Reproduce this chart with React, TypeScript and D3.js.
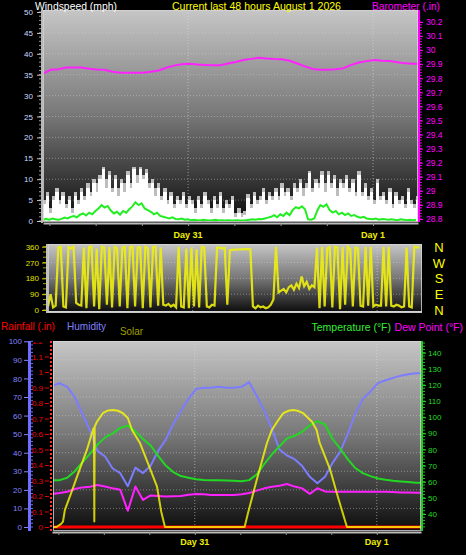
import React, { useEffect, useRef } from 'react';
import * as d3 from 'd3';

const W = 466;
const H = 555;

const periodStart = new Date(2026, 6, 30, 5, 10);
const periodEnd = new Date(2026, 7, 1, 5, 50);

// wind speed samples, one every 24 minutes (mph)
const windStep = 24;
const windSpeed = [
  4, 6, 2, 5, 7, 4, 6, 3, 5, 2, 6, 4, 7, 5, 8, 6, 9, 7, 10, 12.5,
  8, 11, 7, 10, 6, 9, 7, 11, 8, 12.5, 9, 12.5, 10, 11.5, 8, 9, 6, 8, 5, 7,
  4, 6, 3, 5, 4, 6, 3, 5, 4, 2, 5, 3, 6, 4, 2, 5, 3, 6, 2, 4,
  3, 5, 1, 2, 1, 1.5, 5.5, 3, 6, 4, 5, 7, 4, 6, 5, 7, 5, 8, 6, 7,
  5, 8, 7, 9, 6, 8, 11.5, 7, 9, 8, 11, 7, 11, 8, 10, 6, 9, 8, 10, 7,
  9, 6, 11, 6, 8, 5, 7, 4, 9, 5, 6, 4, 7, 3, 6, 4, 5, 3, 7, 4,
  3, 5,
];
const windGust = [
  5, 7, 3, 6, 8, 5, 7, 4, 6, 3, 7, 5, 8, 6, 9, 7, 10, 9, 11, 13,
  10, 12, 8, 11, 8, 10, 9, 12, 9, 13, 11, 13, 11, 12.5, 9, 10, 8, 9, 6, 8,
  5, 7, 4, 6, 5, 7, 4, 6, 5, 3, 6, 4, 7, 5, 3, 6, 4, 7, 3, 5,
  4, 6, 2, 3, 2, 2.5, 6.5, 4, 7, 5, 6, 8, 5, 7, 6, 8, 6, 9, 7, 8,
  6, 9, 8, 10, 8, 9, 12, 8, 10, 9, 12, 9, 12, 9, 11, 8, 10, 9, 11, 8,
  10, 7, 12, 7, 9, 6, 8, 5, 10, 6, 7, 5, 8, 4, 7, 5, 6, 4, 8, 5,
  4, 6,
];
const windAvg = [
  0.3, 0.5, 0.3, 0.6, 0.4, 0.3, 0.5, 0.8, 0.6, 1, 1.2, 0.9, 1.5, 1.8, 1.3, 2, 1.6, 2.4, 3, 3.8,
  3.2, 3.6, 2.5, 1.8, 2.2, 1.5, 2.4, 2, 2.8, 3.5, 4.5, 3.8, 4.2, 3, 2.6, 2.2, 1.6, 2, 1.2, 1,
  0.8, 0.6, 0.9, 0.5, 0.4, 0.6, 0.3, 0.4, 0.2, 0.3, 0.2, 0.1, 0.3, 0.2, 0.1, 0.2, 0.3, 0.1, 0.2, 0.1,
  0.2, 0.1, 0.1, 0.2, 0.1, 0.1, 0.2, 0.3, 0.4, 0.3, 0.5, 0.4, 0.6, 0.8, 1, 1.4, 0.9, 1.6, 1.2, 2,
  1.4, 2.6, 3.3, 3, 3.5, 2.8, 0.4, 0.3, 0.6, 2.5, 3.8, 3.4, 4, 2.6, 2, 2.4, 1.6, 2, 1.4, 1.8,
  1.2, 1.4, 1, 0.8, 1, 0.6, 0.5, 0.4, 0.6, 0.3, 0.5, 0.4, 0.3, 0.4, 0.3, 0.2, 0.4, 0.3, 0.2, 0.3,
  0.2, 0.3,
];

// barometer, hourly (in)
const barometer = [
  29.833, 29.86, 29.864, 29.876, 29.876, 29.876, 29.867, 29.862, 29.86, 29.846,
  29.84, 29.84, 29.84, 29.84, 29.846, 29.855, 29.875, 29.89, 29.9, 29.904,
  29.898, 29.895, 29.893, 29.893, 29.905, 29.916, 29.93, 29.938, 29.946, 29.94,
  29.937, 29.936, 29.925, 29.905, 29.885, 29.866, 29.86, 29.86, 29.864, 29.872,
  29.895, 29.912, 29.922, 29.93, 29.924, 29.922, 29.914, 29.906, 29.904, 29.904,
];

// wind direction, one every 20 minutes (degrees)
const dirStep = 20;
const windDir = [
  20, 90, 15, 25, 355, 360, 20, 15, 358, 350, 360, 40, 30, 25, 355, 10, 358, 360, 20, 350,
  5, 360, 355, 30, 358, 15, 360, 350, 20, 355, 360, 10, 358, 360, 20, 355, 358, 10, 360, 350,
  15, 358, 360, 25, 355, 30, 25, 35, 20, 30, 15, 360, 20, 15, 350, 10, 355, 20, 345, 15,
  360, 355, 20, 15, 30, 25, 355, 355, 350, 352, 30, 340, 342, 343, 344, 345, 345, 346, 347, 345,
  20, 10, 25, 15, 20, 10, 15, 30, 60, 360, 100, 110, 120, 100, 130, 140, 115, 150, 125, 190,
  135, 160, 120, 140, 130, 355, 10, 360, 20, 350, 358, 15, 360, 355, 5, 358, 30, 360, 345, 20,
  355, 350, 25, 20, 360, 25, 360, 20, 30, 25, 25, 360, 20, 358, 25, 20, 30, 25, 15, 20,
  355, 20, 15, 360, 355, 358,
];

// hourly series for the lower chart
const humidity = [
  76, 77.4, 75.5, 70, 61, 52, 41, 38, 31.5, 29, 22, 32, 29, 33, 41, 47, 55.5, 62.5, 69, 74.3,
  75, 75, 75.5, 75, 75, 75.5, 78, 70.7, 62.5, 53, 41.7, 38.5, 36.5, 32.8, 27, 23.5, 27, 34.5, 40.5, 50,
  61, 69, 73, 77.5, 79, 80.3, 81.5, 82.3, 82.8, 82.8,
];
const temperature = [
  61, 61, 62.5, 66.5, 72, 77.3, 83, 87.5, 90, 93.4, 94.8, 91.2, 86.5, 82.5, 76, 70, 66, 63.5, 62.5, 61.5,
  61.1, 61, 61, 60.8, 60.6, 60.3, 61, 64.5, 71, 77, 82, 86.9, 88.5, 91, 95, 97.6, 95.5, 86.5, 80.5, 74,
  68.5, 65.3, 63.5, 62, 61.2, 60.6, 60.2, 59.8, 59.4, 59.3,
];
const dewPoint = [
  52.4, 53, 53.8, 55.5, 56.5, 56.9, 58, 57, 55.9, 55, 42, 57, 48.7, 51.5, 51.2, 50.8, 51, 51.2, 52, 52.4,
  52.2, 51.8, 51.8, 51.8, 51.8, 52.2, 53, 54.5, 55.9, 56.9, 57.5, 58.6, 57, 55.9, 52.5, 56, 54, 53.8, 53.8, 53.8,
  53.8, 53.8, 53.8, 53.8, 53.8, 53.6, 53.4, 53.3, 53.2, 53.2,
];
const rainfall = [
  0, 0, 0, 0, 0, 0, 0, 0, 0, 0, 0, 0, 0, 0, 0, 0, 0, 0, 0, 0,
  0, 0, 0, 0, 0, 0, 0, 0, 0, 0, 0, 0, 0, 0, 0, 0, 0, 0, 0, 0,
  0, 0, 0, 0, 0, 0, 0, 0, 0, 0,
];
// solar radiation: hours after start, W/m²
const solarHours = [
  0, 0.6, 1.2, 1.45, 1.7, 2.5, 3.3, 4.6, 5.4, 5.53, 5.58, 5.63, 5.93, 6.7, 7.4,
  8.05, 8.7, 9.36, 10.0, 10.55, 11.6, 12.66, 13.85, 14.4, 14.9,
  25.4, 25.85, 27.0, 28.35, 29.0, 29.7, 30.5, 31.2, 31.8, 32.4, 33.1, 34.3, 34.9, 35.3, 36.7, 37.7, 38.9, 48.7,
];
const solarValues = [
  0, 0, 20, 35, 110, 215, 325, 497, 626, 640, 35, 648, 679, 734, 752,
  755, 750, 734, 703, 626, 542, 411, 260, 100, 0,
  0, 90, 303, 542, 626, 679, 735, 750, 755, 750, 735, 679, 626, 542, 368, 195, 0, 0,
];

const windTicks = [0, 5, 10, 15, 20, 25, 30, 35, 40, 45, 50];
const baroTicks = [28.8, 28.9, 29, 29.1, 29.2, 29.3, 29.4, 29.5, 29.6, 29.7, 29.8, 29.9, 30, 30.1, 30.2];
const dirTicks = [0, 90, 180, 270, 360];
const compass = ['N', 'E', 'S', 'W', 'N'];
const humTicks = [0, 10, 20, 30, 40, 50, 60, 70, 80, 90, 100];
const rainTicks = [0, 0.1, 0.2, 0.3, 0.4, 0.5, 0.6, 0.7, 0.8, 0.9, 1, 1.1, 1.2];
const tempTicks = [40, 50, 60, 70, 80, 90, 100, 110, 120, 130, 140];

const FONT = '"Liberation Sans", Arial, sans-serif';

const afterStart = (minutes: number) => new Date(periodStart.getTime() + minutes * 60000);
const num = (d: d3.NumberValue) => `${+(+d).toFixed(2)}`;

export default function App() {
  const svgRef = useRef<SVGSVGElement>(null);

  useEffect(() => {
    if (!svgRef.current) return;
    const svg = d3.select(svgRef.current);
    svg.selectAll('*').remove();
    svg.append('rect').attr('width', W).attr('height', H).attr('fill', '#000');

    const defs = svg.append('defs');
    const bg = defs.append('linearGradient').attr('id', 'bg').attr('x1', 0).attr('y1', 0).attr('x2', 0).attr('y2', 1);
    [[0, '#c6c6c6'], [0.5, '#777777'], [1, '#0c0c0c']].forEach(([o, c]) =>
      bg.append('stop').attr('offset', o as number).attr('stop-color', c as string));

    const text = (x: number, y: number, s: string, color: string, size: number, anchor = 'start', len?: number) => {
      const t = svg.append('text')
        .attr('x', x).attr('y', y)
        .attr('fill', color)
        .attr('font-family', FONT)
        .attr('font-size', size)
        .attr('text-anchor', anchor)
        .text(s);
      if (len) t.attr('textLength', len).attr('lengthAdjust', 'spacingAndGlyphs');
      return t;
    };

    // plot background; returns a clipped group for the marks
    const panel = (id: string, x: number, y: number, w: number, h: number) => {
      defs.append('clipPath').attr('id', id).append('rect').attr('x', x).attr('y', y).attr('width', w).attr('height', h);
      svg.append('rect').attr('x', x).attr('y', y).attr('width', w).attr('height', h).attr('fill', 'url(#bg)');
      return svg.append('g').attr('clip-path', `url(#${id})`);
    };

    const gridH = (g: any, ys: number[], x0: number, x1: number) => {
      g.selectAll(null).data(ys).enter().append('line')
        .attr('x1', x0).attr('x2', x1).attr('y1', (d: number) => d).attr('y2', (d: number) => d)
        .attr('stroke', '#d8d8d8').attr('stroke-opacity', 0.45).attr('stroke-dasharray', '1,2');
    };
    const gridV = (g: any, xs: number[], y0: number, y1: number) => {
      g.selectAll(null).data(xs).enter().append('line')
        .attr('y1', y0).attr('y2', y1).attr('x1', (d: number) => d).attr('x2', (d: number) => d)
        .attr('stroke', '#e0e0e0').attr('stroke-opacity', 0.55).attr('stroke-dasharray', '1,2');
    };
    const frame = (x: number, y: number, w: number, h: number) => {
      svg.append('rect').attr('x', x + 0.5).attr('y', y + 0.5).attr('width', w - 1).attr('height', h - 1)
        .attr('fill', 'none').attr('stroke', '#d4d4d4').attr('stroke-opacity', 0.8);
    };

    const styleAxis = (g: any, color: string, size: number, tickColor = color) => {
      g.select('.domain').remove();
      g.selectAll('.tick line').attr('stroke', tickColor);
      g.selectAll('text').attr('fill', color).attr('font-family', FONT).attr('font-size', size);
    };

    const timeAxis = (x: d3.ScaleTime<number, number>, y: number, labelY: number) => {
      const g = svg.append('g').attr('transform', `translate(0,${y})`)
        .call(d3.axisBottom(x).ticks(d3.timeHour.every(6)).tickSize(3).tickSizeOuter(0).tickFormat(() => ''));
      g.select('.domain').attr('stroke', '#bcbcbc').attr('stroke-width', 2);
      g.selectAll('.tick line').attr('stroke', '#9a9a9a');
      x.ticks(d3.timeDay.every(1)).forEach(d => {
        text(x(d), labelY, `Day ${d.getDate()}`, '#f0f000', 9, 'middle').attr('font-weight', 'bold');
      });
    };

    // ---------- Top: windspeed + barometer ----------
    const xTop = d3.scaleTime().domain([periodStart, periodEnd]).range([43, 418]);
    const yWind = d3.scaleLinear().domain([0, 50]).range([221, 12]);
    const yBaro = d3.scaleLinear().domain([28.8, 30.2]).range([219, 22]);

    const top = panel('clipTop', 43, 10, 375, 212);
    gridH(top, windTicks.slice(1, -1).map(v => yWind(v)), 43, 418);
    gridV(top, xTop.ticks(d3.timeDay.every(1)).map(d => xTop(d)), 10, 222);

    const bars = (vals: number[], color: string) => {
      top.append('g').attr('shape-rendering', 'crispEdges')
        .selectAll(null).data(vals).enter().append('rect')
        .attr('x', (_d: number, i: number) => xTop(afterStart(i * windStep)))
        .attr('width', (_d: number, i: number) => xTop(afterStart((i + 1) * windStep)) - xTop(afterStart(i * windStep)) + 0.3)
        .attr('y', (d: number) => yWind(d))
        .attr('height', (d: number) => yWind(0) - yWind(d))
        .attr('fill', color);
    };
    bars(windGust, '#bdbdbd');
    bars(windSpeed, '#ffffff');

    top.append('path')
      .attr('d', d3.line<number>().x((_d, i) => xTop(afterStart(i * windStep))).y(d => yWind(d))(windAvg))
      .attr('fill', 'none').attr('stroke', '#22ee22').attr('stroke-width', 2);

    top.append('path')
      .attr('d', d3.line<number>().x((_d, i) => xTop(afterStart(i * 60))).y(d => yBaro(d))(barometer))
      .attr('fill', 'none').attr('stroke', '#ff22ff').attr('stroke-width', 2);
    frame(43, 10, 375, 212);

    // left wind axis
    svg.append('line').attr('x1', 42).attr('x2', 42).attr('y1', 10).attr('y2', 223).attr('stroke', '#b8b8b8').attr('stroke-width', 2);
    svg.append('g').selectAll(null).data(d3.range(0, 51)).enter().append('line')
      .attr('x1', 39).attr('x2', 41).attr('y1', d => yWind(d)).attr('y2', d => yWind(d)).attr('stroke', '#9a9a9a');
    const wAxis = svg.append('g').attr('transform', 'translate(41,0)')
      .call(d3.axisLeft(yWind).tickValues(windTicks).tickSize(4).tickPadding(4));
    styleAxis(wAxis, '#cddcff', 8, '#c8c8c8');

    // right barometer axis
    svg.append('line').attr('x1', 419).attr('x2', 419).attr('y1', 10).attr('y2', 222).attr('stroke', '#ff00ff').attr('stroke-width', 2);
    svg.append('g').selectAll(null).data(d3.range(0, 71)).enter().append('line')
      .attr('x1', 420).attr('x2', 422).attr('y1', d => yBaro(28.8 + d * 0.02)).attr('y2', d => yBaro(28.8 + d * 0.02))
      .attr('stroke', '#d000d0');
    const bAxis = svg.append('g').attr('transform', 'translate(420,0)')
      .call(d3.axisRight(yBaro).tickValues(baroTicks).tickSize(3).tickPadding(3).tickFormat(num));
    styleAxis(bAxis, '#ff00ff', 8.5);

    timeAxis(xTop, 223, 238);

    text(35, 10, 'Windspeed (mph)', '#ffffff', 11.5, 'start', 82);
    text(172, 10, 'Current last 48 hours August 1 2026', '#ffff00', 11.5, 'start', 169);
    text(372, 10, 'Barometer (.in)', '#ff00ff', 11.5, 'start', 68);

    // ---------- Middle: wind direction ----------
    const xMid = d3.scaleTime().domain([periodStart, periodEnd]).range([48, 422]);
    const yDir = d3.scaleLinear().domain([0, 360]).range([310, 246.7]);
    const mid = panel('clipMid', 48, 244, 374, 68);
    gridH(mid, [90, 180, 270].map(v => yDir(v)), 48, 422);
    gridV(mid, xMid.ticks(d3.timeDay.every(1)).map(d => xMid(d)), 244, 312);
    mid.append('path')
      .attr('d', d3.line<number>().x((_d, i) => xMid(afterStart(i * dirStep))).y(d => yDir(d))(windDir))
      .attr('fill', 'none').attr('stroke', '#eeee10').attr('stroke-width', 2.2).attr('stroke-opacity', 0.9);
    svg.append('line').attr('x1', 48).attr('x2', 422).attr('y1', 312).attr('y2', 312).attr('stroke', '#c8c8c8').attr('stroke-width', 2);
    frame(48, 244, 374, 68);

    svg.append('line').attr('x1', 47).attr('x2', 47).attr('y1', 244).attr('y2', 313).attr('stroke', '#c0c0c0').attr('stroke-width', 2);
    svg.append('g').selectAll(null).data(d3.range(0, 361, 30)).enter().append('line')
      .attr('x1', 43).attr('x2', 46).attr('y1', d => yDir(d)).attr('y2', d => yDir(d)).attr('stroke', '#a0a000');
    const dAxis = svg.append('g').attr('transform', 'translate(46,0)')
      .call(d3.axisLeft(yDir).tickValues(dirTicks).tickSize(4).tickPadding(3));
    styleAxis(dAxis, '#e0e000', 8, '#c8c800');
    dirTicks.forEach((v, i) => text(439, yDir(v) + 5, compass[i], '#ffff00', 13, 'middle'));

    // ---------- Bottom: rain, humidity, solar, temperature, dew point ----------
    const xBot = d3.scaleTime().domain([periodStart, periodEnd]).range([52, 421]);
    const yHum = d3.scaleLinear().domain([0, 100]).range([527, 341.3]);
    const yRain = d3.scaleLinear().domain([0, 1.2]).range([527, 341]);
    const yTemp = d3.scaleLinear().domain([40, 140]).range([514, 352.7]);
    const ySolar = d3.scaleLinear().domain([0, 1200]).range([527, 341]);

    const bot = panel('clipBot', 53, 341, 368, 190);
    gridH(bot, humTicks.slice(1, -1).map(v => yHum(v)), 53, 421);
    gridV(bot, xBot.ticks(d3.timeDay.every(1)).map(d => xBot(d)), 341, 531);

    const hourly = (vals: number[], y: d3.ScaleLinear<number, number>, color: string, w = 2, op = 1) => {
      bot.append('path')
        .attr('d', d3.line<number>().x((_d, i) => xBot(afterStart(i * 60))).y(d => y(d))(vals))
        .attr('fill', 'none').attr('stroke', color).attr('stroke-width', w).attr('stroke-opacity', op)
        .attr('stroke-linejoin', 'round');
    };
    hourly(rainfall, yRain, '#ff0000', 3);
    hourly(humidity, yHum, '#7c7cff', 2);
    hourly(temperature, yTemp, '#22d822', 2);
    hourly(dewPoint, yTemp, '#ff22ff', 2);
    bot.append('path')
      .attr('d', d3.line<number>().x((_d, i) => xBot(afterStart(solarHours[i] * 60))).y(d => ySolar(d))(solarValues))
      .attr('fill', 'none').attr('stroke', '#ffff00').attr('stroke-width', 2).attr('stroke-opacity', 0.78)
      .attr('stroke-linejoin', 'round');
    frame(53, 341, 368, 190);

    // humidity axis
    svg.append('line').attr('x1', 29.5).attr('x2', 29.5).attr('y1', 341).attr('y2', 531).attr('stroke', '#6e6eff').attr('stroke-width', 3);
    svg.append('g').selectAll(null).data(d3.range(0, 101, 2)).enter().append('line')
      .attr('x1', 31).attr('x2', 33).attr('y1', d => yHum(d)).attr('y2', d => yHum(d)).attr('stroke', '#6e6eff');
    const hAxis = svg.append('g').attr('transform', 'translate(28,0)')
      .call(d3.axisLeft(yHum).tickValues(humTicks).tickSize(4).tickPadding(2));
    styleAxis(hAxis, '#8484ff', 8);

    // rainfall axis
    svg.append('line').attr('x1', 51).attr('x2', 51).attr('y1', 341).attr('y2', 531)
      .attr('stroke', '#ff3030').attr('stroke-width', 2).attr('stroke-dasharray', '2,2');
    defs.append('clipPath').attr('id', 'clipRain').append('rect').attr('x', 30).attr('y', 342).attr('width', 22).attr('height', 195);
    const rAxis = svg.append('g').attr('clip-path', 'url(#clipRain)').append('g').attr('transform', 'translate(49,0)')
      .call(d3.axisLeft(yRain).tickValues(rainTicks).tickSize(4).tickPadding(2).tickFormat(num));
    styleAxis(rAxis, '#ee0000', 8);

    // temperature axis
    svg.append('line').attr('x1', 422).attr('x2', 422).attr('y1', 341).attr('y2', 531).attr('stroke', '#22c822').attr('stroke-width', 2);
    svg.append('g').selectAll(null).data(d3.range(32, 147, 2)).enter().append('line')
      .attr('x1', 423).attr('x2', 425).attr('y1', d => yTemp(d)).attr('y2', d => yTemp(d)).attr('stroke', '#22c822');
    const tAxis = svg.append('g').attr('transform', 'translate(423,0)')
      .call(d3.axisRight(yTemp).tickValues(tempTicks).tickSize(3).tickPadding(2));
    styleAxis(tAxis, '#22dd22', 8);

    timeAxis(xBot, 532, 545);

    text(1, 330, 'Rainfall (.in)', '#ff0000', 11.5, 'start', 54);
    text(67, 330, 'Humidity', '#8080ff', 11.5, 'start', 39);
    text(120, 335, 'Solar', '#a0a000', 11.5, 'start', 23);
    text(391, 331, 'Temperature (°F)', '#33ee33', 10.5, 'end');
    text(463, 331, 'Dew Point (°F)', '#ff00ff', 10.5, 'end');
  }, []);

  return <svg ref={svgRef} width={W} height={H} style={{ position: 'absolute', left: 0, top: 0 }} />;
}
